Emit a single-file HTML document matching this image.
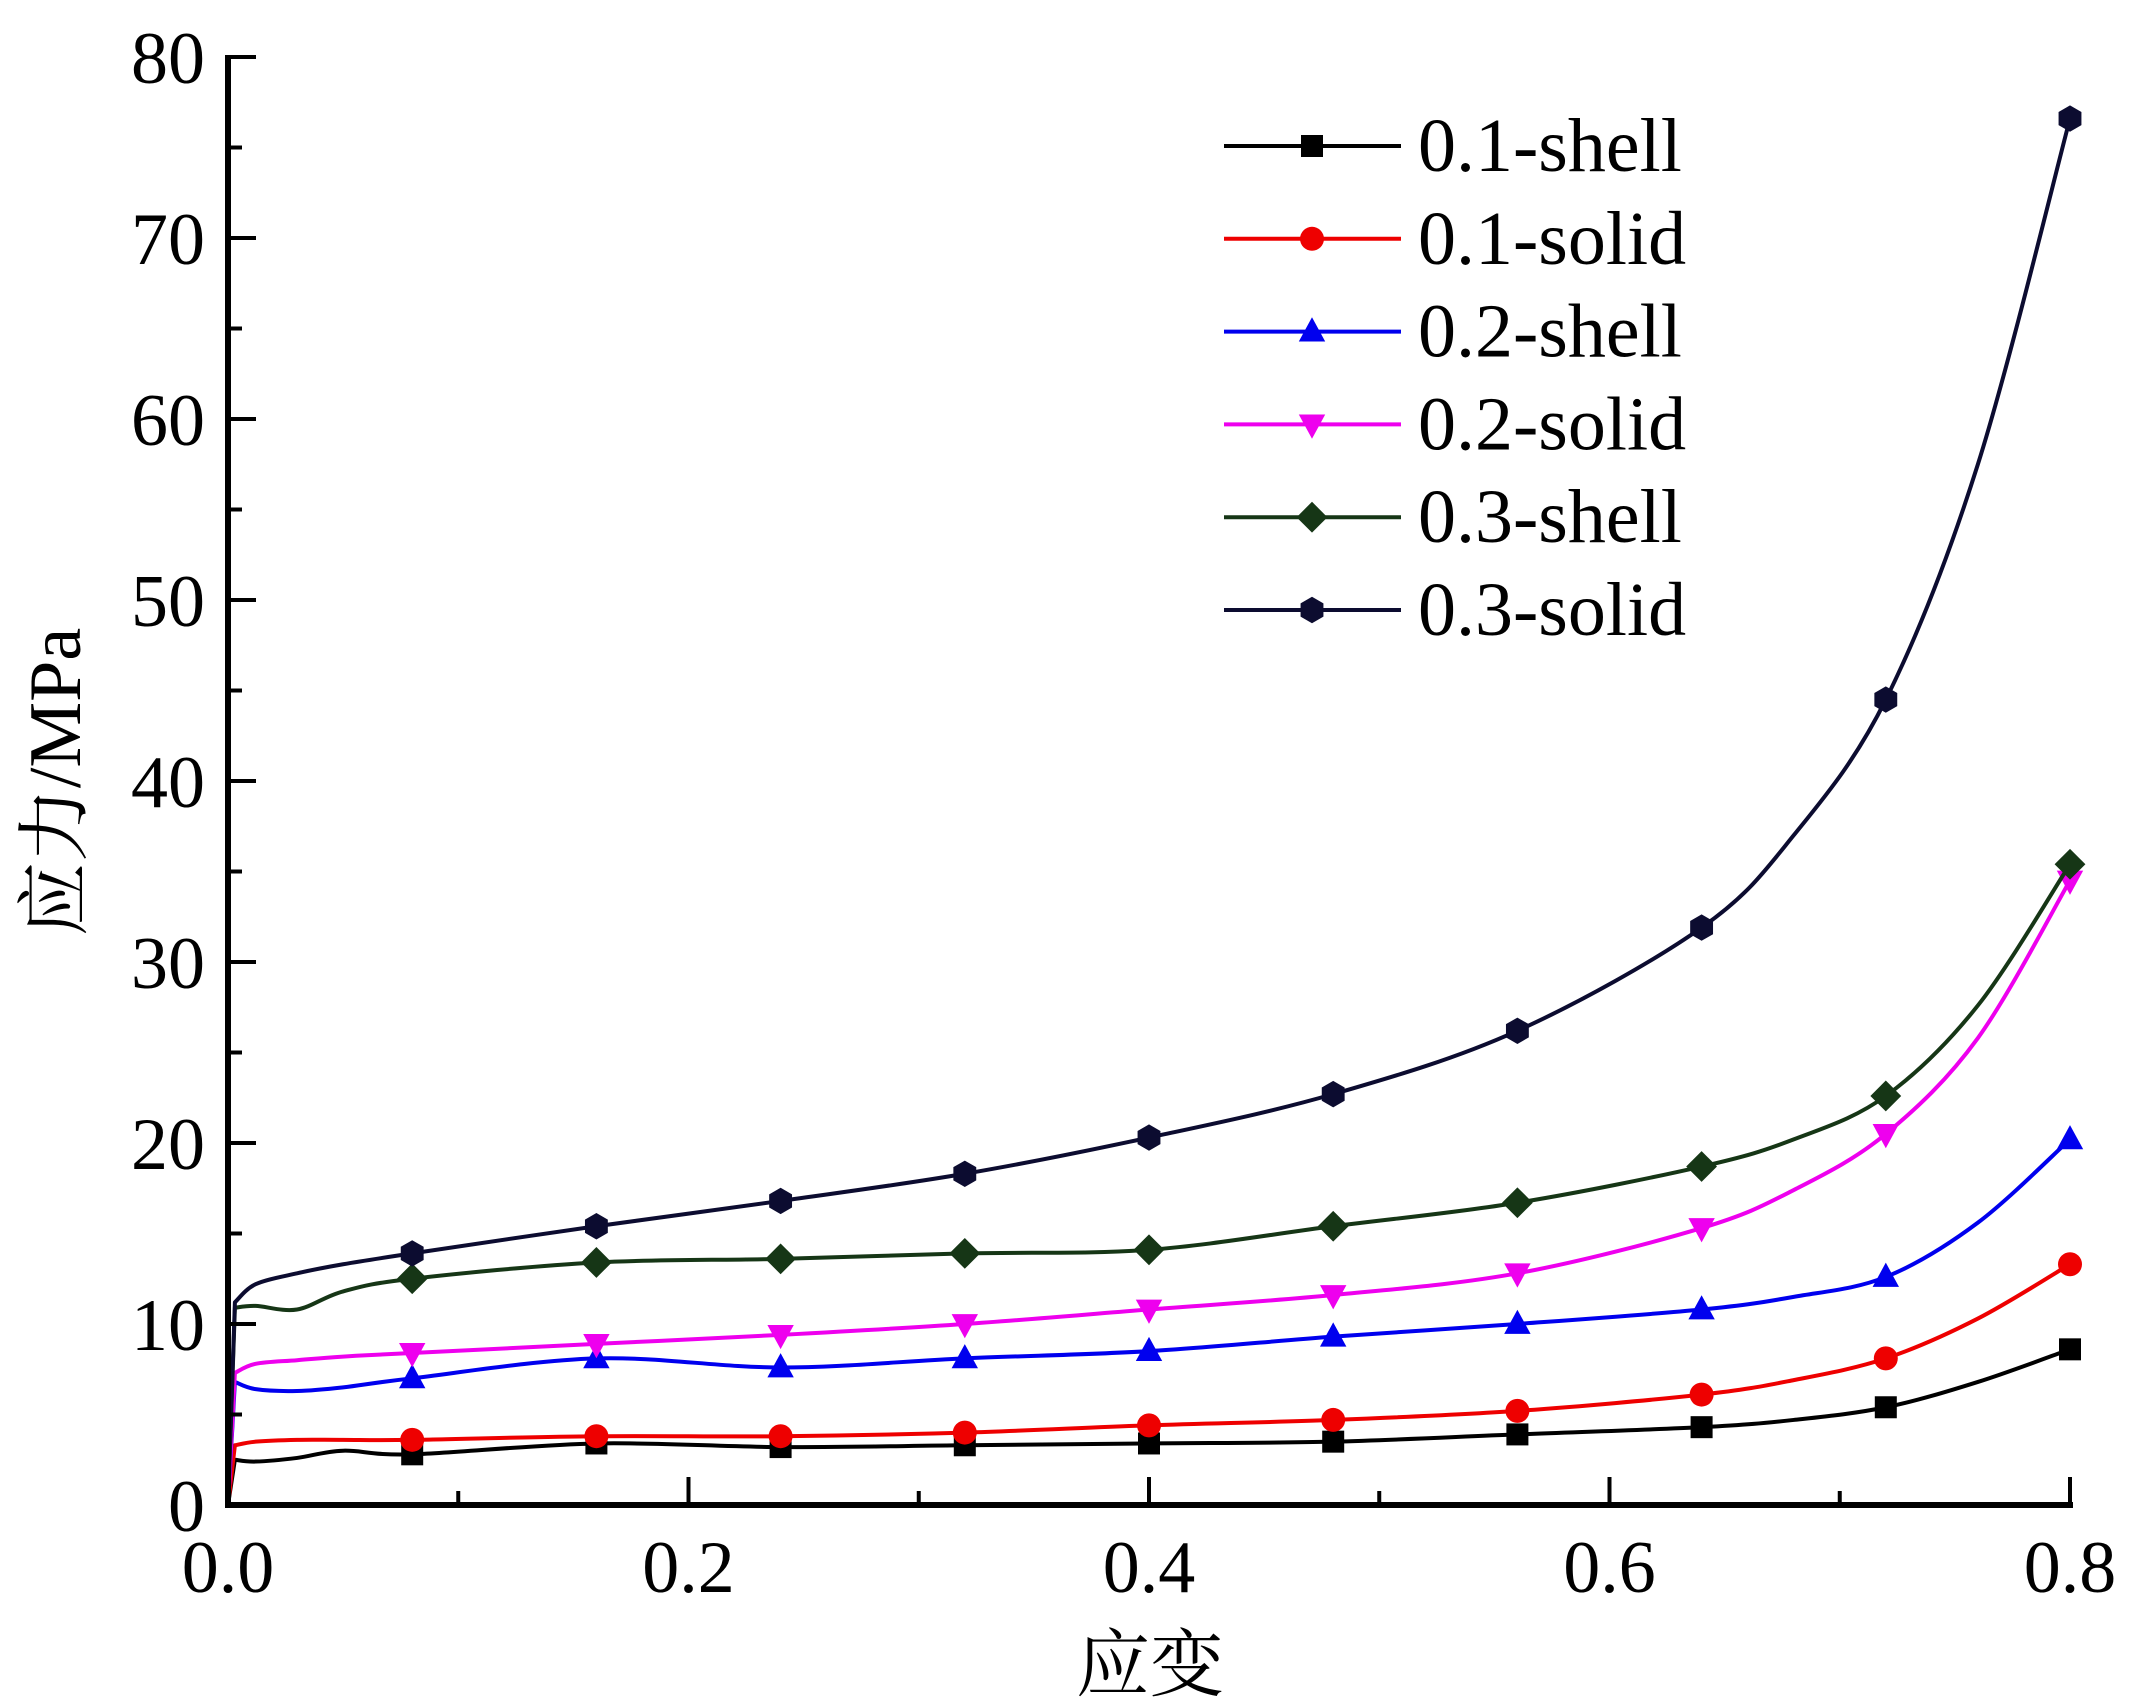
<!DOCTYPE html>
<html><head><meta charset="utf-8">
<style>
html,body{margin:0;padding:0;background:#fff;}
svg{display:block;}
text{font-family:"Liberation Serif","Noto Serif CJK SC",serif;fill:#000;}
</style></head>
<body>
<svg id="chart" width="2133" height="1707" viewBox="0 0 2133 1707" xmlns="http://www.w3.org/2000/svg">
<g id="plot"></g>
<g id="axes"></g>
<g id="legend"></g>
<text transform="translate(80,782) rotate(-90)" text-anchor="middle" font-size="74">应力/MPa</text>
<text x="1150" y="1690" text-anchor="middle" font-size="74">应变</text>
</svg>
<script>
const seriesNames = ["0.1-shell","0.1-solid","0.2-shell","0.2-solid","0.3-shell","0.3-solid"];
const seriesColors = ["#000000","#ee0000","#0000ee","#ee00ee","#163616","#0c0c30"];
const markerShapes = ["square","circle","triangle","invtriangle","diamond","hexagon"];
const markerX = [0.08,0.16,0.24,0.32,0.40,0.48,0.56,0.64,0.72,0.80];
const s01shell = [2.8,3.4,3.2,3.3,3.4,3.5,3.9,4.3,5.4,8.6];
const s01solid = [3.6,3.8,3.8,4.0,4.4,4.7,5.2,6.1,8.1,13.3];
const s02shell = [7.0,8.1,7.6,8.1,8.5,9.3,10.0,10.8,12.6,20.2];
const s02solid = [8.4,8.9,9.4,10.0,10.8,11.6,12.8,15.3,20.5,34.5];
const s03shell = [12.5,13.4,13.6,13.9,14.1,15.4,16.7,18.7,22.6,35.4];
const s03solid = [13.9,15.4,16.8,18.3,20.3,22.7,26.2,31.9,44.5,76.6];
const markerValues = [s01shell,s01solid,s02shell,s02solid,s03shell,s03solid];
// early-strain curve points (x, y) before first marker
const startX = [0.003,0.012,0.03,0.05];
const start01shell = [2.5,2.4,2.6,3.0];
const start01solid = [3.3,3.5,3.6,3.6];
const start02shell = [6.8,6.4,6.3,6.5];
const start02solid = [7.3,7.8,8.0,8.2];
const start03shell = [10.9,11.0,10.8,11.8];
const start03solid = [11.2,12.2,12.8,13.3];
const startValues = [start01shell,start01solid,start02shell,start02solid,start03shell,start03solid];
// intermediate curve points between markers at high strain
const midX = [0.68,0.76];
const mid01shell = [4.7,6.8];
const mid01solid = [6.9,10.3];
const mid02shell = [11.5,15.6];
const mid02solid = [17.4,25.8];
const mid03shell = [20.2,27.6];
const mid03solid = [37.0,57.5];
const midValues = [mid01shell,mid01solid,mid02shell,mid02solid,mid03shell,mid03solid];
const xTicks = [0,0.2,0.4,0.6,0.8];
const xTickLabels = ["0.0","0.2","0.4","0.6","0.8"];
const yTicks = [0,10,20,30,40,50,60,70,80];

const NS="http://www.w3.org/2000/svg";
const X0=228, XW=1842, Y0=1505, YH=1448;
const xs = v => X0 + v/0.8*XW;
const ys = v => Y0 - v/80*YH;
function mk(tag, attrs, parent){const e=document.createElementNS(NS,tag);for(const k in attrs)e.setAttribute(k,attrs[k]);parent.appendChild(e);return e;}

const axes=document.getElementById('axes');
const plot=document.getElementById('plot');
const legend=document.getElementById('legend');

function smoothPath(pts){
  let d="";
  for(let i=0;i<pts.length-1;i++){
    const p0=pts[Math.max(0,i-1)],p1=pts[i],p2=pts[i+1],p3=pts[Math.min(pts.length-1,i+2)];
    const c1=[p1[0]+(p2[0]-p0[0])/6,p1[1]+(p2[1]-p0[1])/6];
    const c2=[p2[0]-(p3[0]-p1[0])/6,p2[1]-(p3[1]-p1[1])/6];
    d+=" C"+c1[0]+","+c1[1]+" "+c2[0]+","+c2[1]+" "+p2[0]+","+p2[1];
  }
  return d;
}
function drawMarker(shape,cx,cy,color,parent,r){
  let e;
  if(shape==="square") e=mk('rect',{x:cx-r,y:cy-r,width:2*r,height:2*r,fill:color},parent);
  else if(shape==="circle") e=mk('circle',{cx:cx,cy:cy,r:r+1,fill:color},parent);
  else if(shape==="triangle") e=mk('polygon',{points:`${cx},${cy-r*1.3} ${cx+r*1.2},${cy+r*0.9} ${cx-r*1.2},${cy+r*0.9}`,fill:color},parent);
  else if(shape==="invtriangle") e=mk('polygon',{points:`${cx},${cy+r*1.3} ${cx+r*1.2},${cy-r*0.9} ${cx-r*1.2},${cy-r*0.9}`,fill:color},parent);
  else if(shape==="diamond") e=mk('polygon',{points:`${cx},${cy-r*1.4} ${cx+r*1.4},${cy} ${cx},${cy+r*1.4} ${cx-r*1.4},${cy}`,fill:color},parent);
  else {let p=[];for(let k=0;k<6;k++){const a=Math.PI/6+k*Math.PI/3;p.push((cx+r*1.2*Math.cos(a))+","+(cy+r*1.2*Math.sin(a)));}
    e=mk('polygon',{points:p.join(" "),fill:color},parent);}
  return e;
}

// series
for(let s=0;s<seriesNames.length;s++){
  const raw=[];
  startX.forEach((x,i)=>raw.push([x,startValues[s][i]]));
  markerX.forEach((x,i)=>raw.push([x,markerValues[s][i]]));
  midX.forEach((x,i)=>raw.push([x,midValues[s][i]]));
  raw.sort((a,b)=>a[0]-b[0]);
  const pts=raw.map(p=>[xs(p[0]),ys(p[1])]);
  const d="M"+xs(0)+","+ys(0)+" L"+pts[0][0]+","+pts[0][1]+smoothPath(pts);
  const path=mk('path',{d:d,fill:'none',stroke:seriesColors[s],'stroke-width':4,'stroke-linejoin':'round'},plot);
  
  
  markerX.forEach((x,i)=>{
    const m=drawMarker(markerShapes[s],xs(x),ys(markerValues[s][i]),seriesColors[s],plot,11);
    
    
  });
}

// axes
const yl=mk('line',{x1:X0,y1:Y0+3,x2:X0,y2:ys(80)-2,stroke:'#000','stroke-width':6},axes);


const xl=mk('line',{x1:X0-3,y1:Y0,x2:xs(0.8)+3,y2:Y0,stroke:'#000','stroke-width':6},axes);


for(let v=0;v<=80;v+=5){
  const major=v%10===0;
  const t=mk('line',{x1:X0,y1:ys(v),x2:X0+(major?28:14),y2:ys(v),stroke:'#000','stroke-width':4},axes);
  
  
}
yTicks.forEach(v=>{
  const t=mk('text',{x:205,y:ys(v)+26,'text-anchor':'end','font-size':74},axes);
  t.textContent=v;
  
  
});
for(let k=0;k<=8;k++){
  const v=k*0.1, major=k%2===0;
  const t=mk('line',{x1:xs(v),y1:Y0,x2:xs(v),y2:Y0-(major?28:14),stroke:'#000','stroke-width':4},axes);
  
  
}
xTicks.forEach((v,i)=>{
  const t=mk('text',{x:xs(v),y:1592,'text-anchor':'middle','font-size':74},axes);
  t.textContent=xTickLabels[i];
  
  
});

// legend
for(let s=0;s<seriesNames.length;s++){
  const y=146+s*92.8;
  const g=mk('g',{},legend);
  
  
  mk('line',{x1:1224,y1:y,x2:1401,y2:y,stroke:seriesColors[s],'stroke-width':4},g);
  drawMarker(markerShapes[s],1312,y,seriesColors[s],g,11);
  const t=mk('text',{x:1418,y:y+25,'font-size':76},g);
  t.textContent=seriesNames[s];
}
</script>
</body></html>
